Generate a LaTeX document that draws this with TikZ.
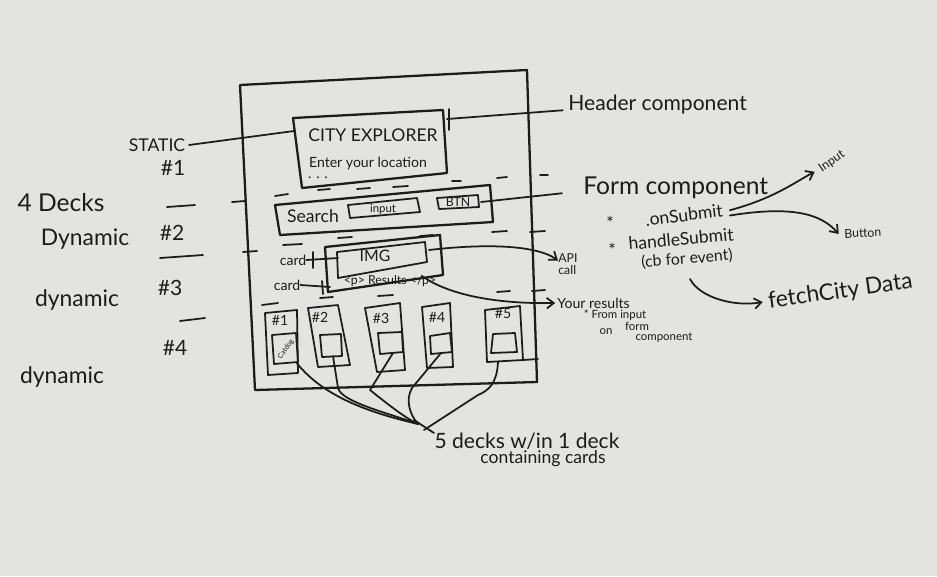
\documentclass[tikz,border=0pt]{standalone}
\usepackage{fontspec}
\setmainfont{Lato}
\usetikzlibrary{arrows.meta}
\definecolor{board}{RGB}{227,227,223}
\definecolor{inkc}{RGB}{28,28,28}
\newcommand\myfs[1]{\fontsize{#1}{#1}\selectfont}
\begin{document}
\begin{tikzpicture}[x=0.02cm,y=-0.02cm,line cap=round,line join=round,
  ink/.style={draw=inkc,line width=1.3pt},
  thin ink/.style={draw=inkc,line width=1pt},
  lbl/.style={text=inkc,inner sep=0pt},
  arr/.style={thin ink,-{Straight Barb[length=4pt,width=6pt]}}]
\fill[board] (0,0) rectangle (937,576);
\useasboundingbox (0,0) rectangle (937,576);

% outer frame
\draw[ink] (240,85) -- (527,70) -- (537,382) -- (255,390) -- cycle;

% header box
\coordinate (hdrW) at (294,131);
\coordinate (hdrE) at (447,119);
\draw[ink] (293,118) -- (443,110) -- (447,173) -- (302,188) -- cycle;
\draw[thin ink] (449,109) -- (449,130);
\node[lbl,font=\myfs{10}] (title) at (373,135) {CITY EXPLORER};
\node[lbl,font=\myfs{8}] (loc) at (368,164) {Enter your location};
\node[lbl,font=\myfs{8}] (dots) at (318,178) {. . .};

% form box
\draw[ink] (275,205) -- (490,185) -- (493,222) -- (280,235) -- cycle;
\node[lbl,font=\myfs{10}] (search) at (313,216) {Search};
\draw[thin ink] (348,205) -- (417,198) -- (420,212) -- (350,218) -- cycle;
\node[lbl,font=\myfs{6.5}] (inp) at (383,209) {input};
\draw[thin ink] (437,198) -- (478,195) -- (479,207) -- (439,209) -- cycle;
\node[lbl,font=\myfs{7}] (btn) at (458,202) {BTN};
\coordinate (btnE) at (481,202);

% card section
\draw[ink] (325,247) -- (440,235) -- (443,275) -- (328,292) -- cycle;
\draw[thin ink] (337,252) -- (425,242) -- (427,262) -- (338,278) -- cycle;
\node[lbl,font=\myfs{9}] (img) at (375,256) {IMG};
\node[lbl,font=\myfs{7}] (res) at (390,281) {<p> Results </p>};
\coordinate (imgE) at (429,250);
\coordinate (resE) at (422,276);
\coordinate (imgW) at (338,258);
\coordinate (cardW) at (330,287);
\node[lbl,font=\myfs{8}] (card1) at (293,260) {card};
\node[lbl,font=\myfs{8}] (card2) at (287,285) {card};
\draw[thin ink] (card1.east) -- (imgW);
\draw[thin ink] (card2.east) -- (cardW);
\draw[thin ink] (313,252) -- (313,268);
\draw[thin ink] (322,281) -- (323,294);

% five small decks
\draw[thin ink] (265,313) -- (297,310) -- (298,373) -- (268,375) -- cycle;
\draw[thin ink] (272,335) -- (296,333) -- (298,362) -- (274,364) -- cycle;
\node[lbl,font=\myfs{8}] (d1) at (280,320) {\#1};
\node[lbl,font=\myfs{4},rotate=55] (d1t) at (286,349) {Catdog};
\coordinate (d1b) at (296,362);

\draw[thin ink] (308,308) -- (338,305) -- (350,365) -- (318,367) -- cycle;
\draw[thin ink] (320,335) -- (341,334) -- (342,356) -- (322,357) -- cycle;
\node[lbl,font=\myfs{8}] (d2) at (320,317) {\#2};
\coordinate (d2b) at (333,356);

\draw[thin ink] (365,308) -- (400,303) -- (405,370) -- (377,372) -- cycle;
\draw[thin ink] (378,333) -- (402,332) -- (403,352) -- (380,354) -- cycle;
\node[lbl,font=\myfs{8}] (d3) at (381,318) {\#3};
\coordinate (d3b) at (393,353);

\draw[thin ink] (422,307) -- (450,303) -- (453,367) -- (427,368) -- cycle;
\draw[thin ink] (430,336) -- (450,333) -- (452,352) -- (431,354) -- cycle;
\node[lbl,font=\myfs{8}] (d4) at (437,317) {\#4};
\coordinate (d4b) at (441,353);

\draw[thin ink] (485,310) -- (520,306) -- (523,360) -- (487,362) -- cycle;
\draw[thin ink] (493,334) -- (515,333) -- (517,352) -- (491,353) -- cycle;
\node[lbl,font=\myfs{8}] (d5) at (503,314) {\#5};
\coordinate (d5b) at (498,362);
\draw[thin ink] (523,360) -- (538,359);

% separator dashes
\foreach \a/\b in {{(275,196)}/{(288,194)},{(318,190)}/{(330,189)},{(357,189)}/{(370,188)},
  {(393,187)}/{(408,186)},{(452,181)}/{(461,181)},{(497,178)}/{(507,177)},{(540,175)}/{(548,175)},
  {(232,202)}/{(245,201)},{(283,245)}/{(302,244)},{(492,232)}/{(507,231)},{(530,232)}/{(545,231)},
  {(243,252)}/{(257,251)},{(497,292)}/{(510,291)},{(532,291)}/{(545,290)},{(262,305)}/{(278,303)},
  {(320,298)}/{(333,297)},{(378,296)}/{(393,295)},{(338,238)}/{(352,237)},{(420,236)}/{(433,235)},
  {(167,207)}/{(195,205)},{(160,258)}/{(203,255)},{(180,321)}/{(205,318)}}
  \draw[thin ink] \a -- \b;

% left labels
\node[lbl,font=\myfs{10}] (static) at (157,145) {STATIC};
\node[lbl,font=\myfs{12}] (n1) at (173,168) {\#1};
\node[lbl,font=\myfs{14}] (decks) at (61,203) {4 Decks};
\node[lbl,font=\myfs{13}] (dyn2) at (85,239) {Dynamic};
\node[lbl,font=\myfs{12}] (n2) at (172,233) {\#2};
\node[lbl,font=\myfs{13}] (dyn3) at (77,300) {dynamic};
\node[lbl,font=\myfs{12}] (n3) at (170,288) {\#3};
\node[lbl,font=\myfs{12}] (n4) at (175,348) {\#4};
\node[lbl,font=\myfs{13}] (dyn4) at (62,377) {dynamic};
\draw[thin ink] ([xshift=2pt]static.east) -- (hdrW);

% right labels
\node[lbl,font=\myfs{12},anchor=west] (hdrc) at (568,105) {Header component};
\draw[thin ink] (hdrE) -- ([xshift=-3pt,yshift=-3pt]hdrc.west);
\node[lbl,font=\myfs{14},anchor=west] (formc) at (583,188) {Form component};
\draw[thin ink] (btnE) -- ([xshift=-12pt,yshift=-3pt]formc.west);

\node[lbl,font=\myfs{10}] (star1) at (610,223) {*};
\node[lbl,font=\myfs{10},rotate=7] (onsub) at (684,215) {.onSubmit};
\node[lbl,font=\myfs{10}] (star2) at (612,250) {*};
\node[lbl,font=\myfs{10},rotate=5] (hsub) at (681,239) {handleSubmit};
\node[lbl,font=\myfs{9},rotate=5] (cbev) at (687,259) {(cb for event)};
\node[lbl,font=\myfs{7},rotate=35,anchor=west] (inlbl) at (820,170) {Input};
\node[lbl,font=\myfs{7},rotate=3,anchor=west] (btnlbl) at (844,234) {Button};
\node[lbl,font=\myfs{13},rotate=8,anchor=west] (fetch) at (768,302) {fetchCity Data};
\draw[arr] ([xshift=4pt]onsub.east) .. controls (775,198) and (795,182) .. ([xshift=-3pt,yshift=-1pt]inlbl.west);
\draw[arr] ([xshift=4pt,yshift=-3pt]onsub.east) .. controls (795,205) and (822,215) .. ([xshift=-3pt]btnlbl.west);
\coordinate (cbS) at (690,279);
\draw[arr] (cbS) .. controls (700,298) and (735,307) .. ([xshift=-3pt]fetch.west);

% API and results
\node[lbl,font=\myfs{7},align=left,anchor=west] (api) at (558,264) {API\\call};
\draw[arr] (imgE) .. controls (480,244) and (535,244) .. ([yshift=2pt]api.west);
\node[lbl,font=\myfs{8},anchor=west] (yr) at (557,303) {Your results};
\draw[arr] (resE) .. controls (450,296) and (500,304) .. ([xshift=-1pt]yr.west);
\node[lbl,font=\myfs{6.5}] (fr1) at (615,315) {* From input};
\node[lbl,font=\myfs{6.5}] (fr2) at (606,332) {on};
\node[lbl,font=\myfs{6.5}] (fr3) at (637,326) {form};
\node[lbl,font=\myfs{6.5}] (fr4) at (664,338) {component};

% decks to caption
\coordinate (conv) at (418,424);
\draw[thin ink] (d1b) .. controls (325,400) and (380,415) .. (conv);
\draw[thin ink] (d2b) -- (338,388) .. controls (342,402) and (385,412) .. (conv);
\draw[thin ink] (d3b) -- (370,390) .. controls (385,402) and (405,418) .. (conv);
\draw[thin ink] (d4b) -- (412,388) .. controls (405,400) and (410,415) .. (conv);
\draw[thin ink] (d5b) .. controls (497,382) and (490,390) .. (478,395) -- (424,430);
\draw[thin ink] (414,420) -- (434,433);
\node[lbl,font=\myfs{12}] (cap1) at (527,441) {5 decks w/in 1 deck};
\node[lbl,font=\myfs{10}] (cap2) at (543,459) {containing cards};
\end{tikzpicture}
\end{document}
